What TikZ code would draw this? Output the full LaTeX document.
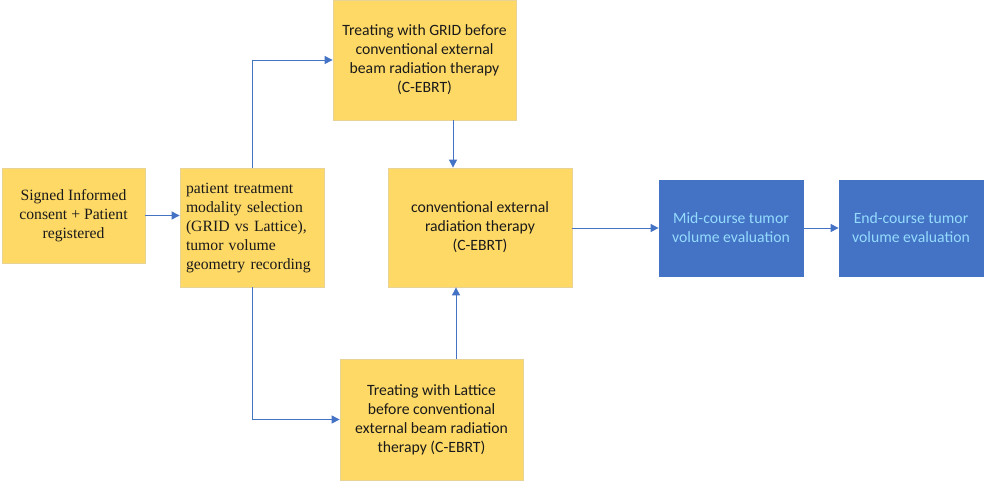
\documentclass[tikz,border=0pt]{standalone}
\usepackage{fontspec}
\setmainfont{Carlito}
\newfontfamily\timesf{Liberation Serif}
\usetikzlibrary{arrows.meta,positioning,calc}
\definecolor{boxyellow}{HTML}{FFD966}
\definecolor{boxedge}{HTML}{E9D394}
\definecolor{boxblue}{HTML}{4472C4}
\definecolor{linkblue}{HTML}{4472C4}
\definecolor{cyantext}{HTML}{94DCFF}
\definecolor{darktext}{HTML}{1A1A1A}
\tikzset{
  ybox/.style={fill=boxyellow, draw=boxedge, line width=0.8pt, inner sep=0pt, text=darktext,
    font=\fontsize{15.7}{19}\selectfont, align=center},
  bbox/.style={fill=boxblue, draw=boxblue, line width=0.8pt, inner sep=0pt, text=cyantext,
    font=\fontsize{15.7}{19}\selectfont, align=center,
    minimum width=144pt, minimum height=96pt},
  arr/.style={draw=linkblue, line width=1pt, -{Triangle[length=8pt,width=8pt]}},
}
\begin{document}
\begin{tikzpicture}[x=1pt,y=-1pt]
\useasboundingbox (0,0) rectangle (984,480);
\fill[white] (0,0) rectangle (984,480);

\node[ybox, minimum width=143pt, minimum height=95pt, font=\timesf\fontsize{15.7}{19}\selectfont]
  (consent) at (73.5,215.5) {Signed Informed\\consent + Patient\\registered};
\node[ybox, minimum width=144pt, minimum height=119pt, text width=132pt, align=left,
  font=\timesf\fontsize{15.7}{19}\selectfont]
  (select) at (252,227.5) {patient treatment\\modality selection\\(GRID vs Lattice),\\tumor volume\\geometry recording};
\node[ybox, minimum width=183pt, minimum height=120pt]
  (grid) at (424.5,60) {Treating with GRID before\\conventional external\\beam radiation therapy\\(C-EBRT)};
\node[ybox, minimum width=184pt, minimum height=119pt]
  (cebrt) at (480,227.5) {conventional external\\radiation therapy\\(C-EBRT)};
\node[ybox, minimum width=183pt, minimum height=121pt]
  (lattice) at (431.5,419.5) {Treating with Lattice\\before conventional\\external beam radiation\\therapy (C-EBRT)};
\node[bbox] (mid) at (731,228) {Mid-course tumor\\volume evaluation};
\node[bbox] (endc) at (911,228) {End-course tumor\\volume evaluation};

\draw[arr] (consent.east) -- (consent.east -| select.west);
\draw[arr] (select.north) |- (grid.west);
\draw[arr] (select.south) |- (lattice.west);
\draw[arr] ([xshift=28.5pt]grid.south) -- ([xshift=28.5pt]grid.south |- cebrt.north);
\draw[arr] ([xshift=24.5pt]lattice.north) -- ([xshift=24.5pt]lattice.north |- cebrt.south);
\draw[arr] (cebrt.east -| cebrt.east) ++(0,0.5) -- (mid.west);
\draw[arr] (mid.east) -- (endc.west);
\end{tikzpicture}
\end{document}
